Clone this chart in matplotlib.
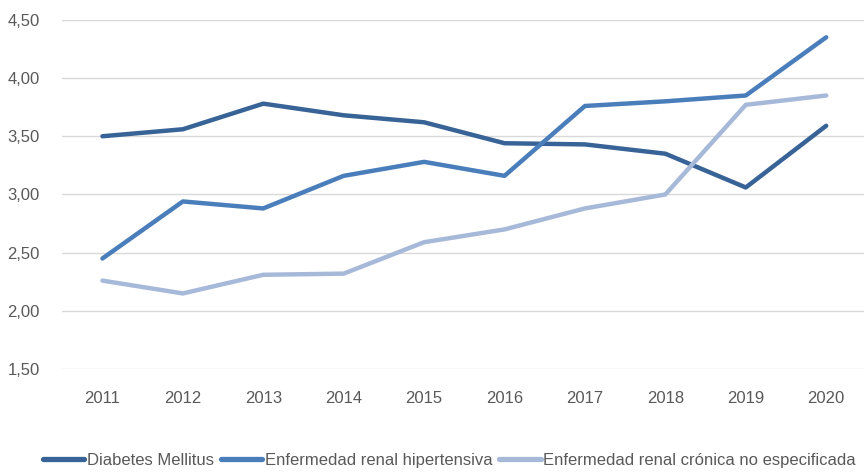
import numpy as np
import matplotlib.pyplot as plt

years = ["2011", "2012", "2013", "2014", "2015", "2016", "2017", "2018", "2019", "2020"]
diabetes = [3.50, 3.56, 3.78, 3.68, 3.62, 3.44, 3.43, 3.35, 3.06, 3.59]
hipertensiva = [2.45, 2.94, 2.88, 3.16, 3.28, 3.16, 3.76, 3.80, 3.85, 4.35]
cronica = [2.26, 2.15, 2.31, 2.32, 2.59, 2.70, 2.88, 3.00, 3.77, 3.85]
series_names = ["Diabetes Mellitus", "Enfermedad renal hipertensiva",
                "Enfermedad renal crónica no especificada"]
colors = ["#386396", "#4a7ebb", "#a7b9d8"]

plt.rcParams['font.family'] = ['Liberation Sans Narrow', 'Liberation Sans', 'DejaVu Sans']

fig = plt.figure(figsize=(8.64, 4.72), dpi=100)
ax = fig.add_axes([0.072, 0.218, 0.928, 0.740])

x = np.arange(len(years))
for vals, name, c in zip([diabetes, hipertensiva, cronica], series_names, colors):
    ax.plot(x, vals, color=c, lw=3.2, label=name, solid_capstyle='round')

ax.set_xlim(-0.5, 9.47)
ax.set_ylim(1.5, 4.5)
ax.set_yticks(np.arange(1.5, 4.51, 0.5))
ax.set_yticklabels([f"{v:.2f}".replace(".", ",") for v in np.arange(1.5, 4.51, 0.5)])
ax.set_xticks(x)
ax.set_xticklabels(years)
ax.grid(axis='y', color='#d9d9d9', lw=1)
ax.set_axisbelow(True)
for s in ax.spines.values():
    s.set_visible(False)
ax.tick_params(axis='both', length=0, labelsize=12, colors='#595959')
ax.tick_params(axis='y', pad=16)
ax.tick_params(axis='x', pad=16)

leg = fig.legend(loc='center', bbox_to_anchor=(0.52, 0.025), ncol=3, frameon=False,
                 fontsize=12, handlelength=2.5, handletextpad=0.15, columnspacing=0.4,
                 labelcolor='#595959', borderaxespad=0, borderpad=0)
for h in leg.get_lines():
    h.set_linewidth(3.8)

fig.savefig("out.png", dpi=100)
